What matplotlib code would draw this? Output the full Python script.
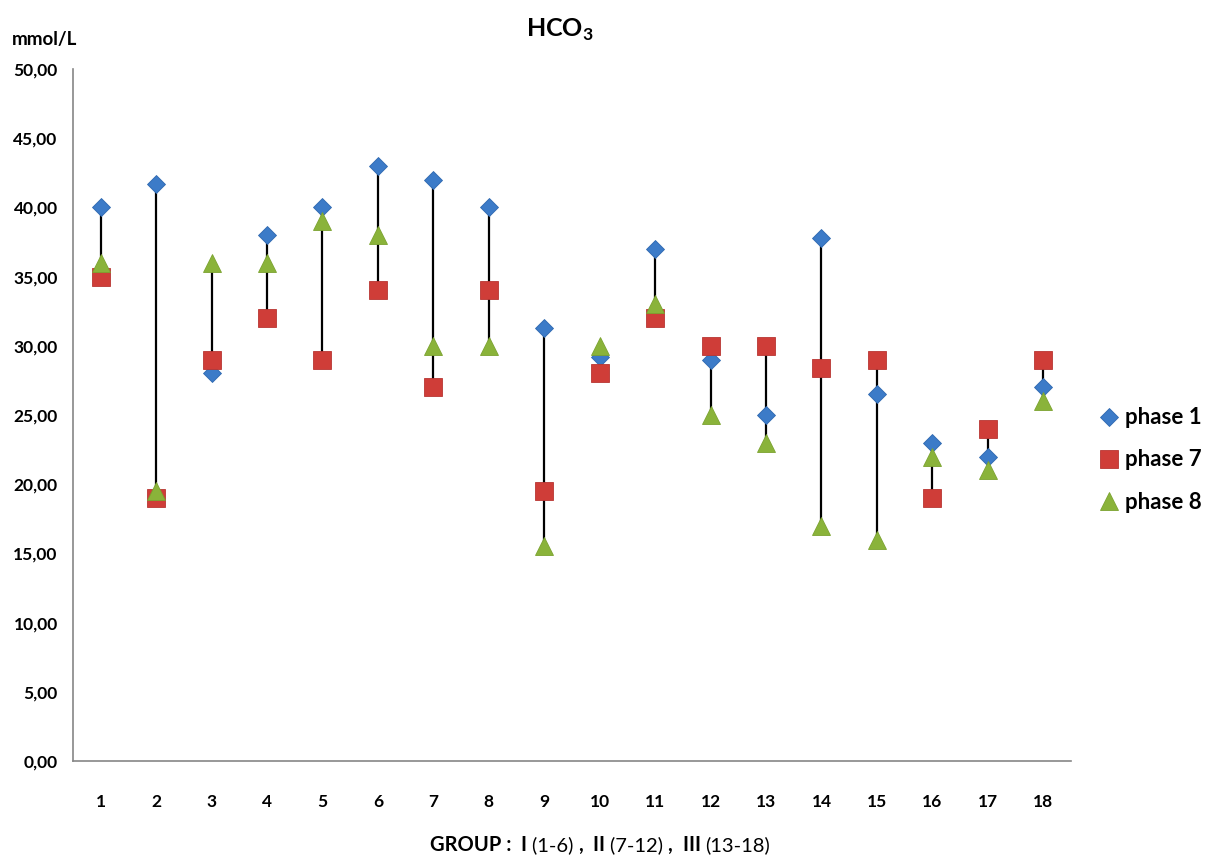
#!/usr/bin/env python3
# -*- coding: utf-8 -*-

import numpy as np
import matplotlib
matplotlib.use("Agg")
import matplotlib.pyplot as plt

# Données HCO3 (mmol/L) par sujet
categories = list(range(1, 19))
phase1 = [40, 41.7, 28, 38, 40, 43, 42, 40, 31.3, 29.2, 37, 29, 25, 37.8, 26.5, 23, 22, 27]
phase7 = [35, 19, 29, 32, 29, 34, 27, 34, 19.5, 28, 32, 30, 30, 28.4, 29, 19, 24, 29]
phase8 = [36, 19.5, 36, 36, 39, 38, 30, 30, 15.5, 30, 33, 25, 23, 17, 16, 22, 21, 26]
yticks = [0, 5, 10, 15, 20, 25, 30, 35, 40, 45, 50]

plt.rcParams['font.family'] = ['Lato', 'DejaVu Sans']
plt.rcParams['mathtext.fontset'] = 'custom'
plt.rcParams['mathtext.bf'] = 'Lato:bold'
plt.rcParams['mathtext.rm'] = 'Lato:bold'

W, H = 1208, 856
fig = plt.figure(figsize=(W / 100, H / 100), dpi=100)
ax = fig.add_axes([73 / W, 1 - 761 / H, (1071 - 73) / W, (761 - 69) / H])

x = np.array(categories)
allv = np.vstack([phase1, phase7, phase8])
# lignes haut-bas entre min et max de chaque sujet
ax.vlines(x, allv.min(axis=0), allv.max(axis=0), colors='black', lw=1.6, zorder=1)

ax.plot(x, phase1, ls='none', marker='D', ms=9, color='#3C7BC8',
        mec='#2F69B0', mew=0.6, label='phase 1', zorder=3)
ax.plot(x, phase7, ls='none', marker='s', ms=12.5, color='#CF3D38',
        mec='#B83532', mew=0.6, label='phase 7', zorder=4)
ax.plot(x, phase8, ls='none', marker='^', ms=13, color='#8AB33A',
        mec='#7BA22F', mew=0.6, label='phase 8', zorder=5)

ax.set_xlim(0.5, 18.5)
ax.set_ylim(0, 50)
ax.set_xticks(x)
ax.set_xticklabels([str(c) for c in categories], fontsize=12.5, fontweight='bold')
ax.set_yticks(yticks)
ax.set_yticklabels([f"{v:.2f}".replace('.', ',') for v in yticks],
                   fontsize=12.5, fontweight='bold')
ax.tick_params(axis='both', length=0)
ax.tick_params(axis='x', pad=24)
ax.tick_params(axis='y', pad=11)

for side in ['top', 'right']:
    ax.spines[side].set_visible(False)
for side in ['left', 'bottom']:
    ax.spines[side].set_color('#868686')
    ax.spines[side].set_linewidth(1.2)

# Titre et unité
fig.text(560 / W, 1 - 30 / H, r'$\mathbf{HCO}_\mathbf{3}$', ha='center', va='center',
         fontsize=18)
fig.text(12 / W, 1 - 40 / H, 'mmol/L', ha='left', va='center',
         fontsize=13.5, fontweight='bold')

# Légende
fig.legend(loc='center left', bbox_to_anchor=(1076 / W, 1 - 460 / H),
           frameon=False, prop={'weight': 'bold', 'size': 16},
           handletextpad=0.1, labelspacing=0.95, handlelength=1.2)

# Libellé de l'axe x (mélange gras / normal), même ligne de base
pieces = [('GROUP :  ', 'bold'), ('I ', 'bold'), ('(1-6) ', 'normal'),
          (',  ', 'bold'), ('II ', 'bold'), ('(7-12) ', 'normal'),
          (',  ', 'bold'), ('III ', 'bold'), ('(13-18)', 'normal')]
renderer = fig.canvas.get_renderer()
xpix = 430
for txt, wt in pieces:
    t = fig.text(xpix / W, 1 - 851 / H, txt, ha='left', va='baseline',
                 fontsize=14.5, fontweight=wt)
    xpix += t.get_window_extent(renderer).width

fig.savefig('out.png', dpi=100)
